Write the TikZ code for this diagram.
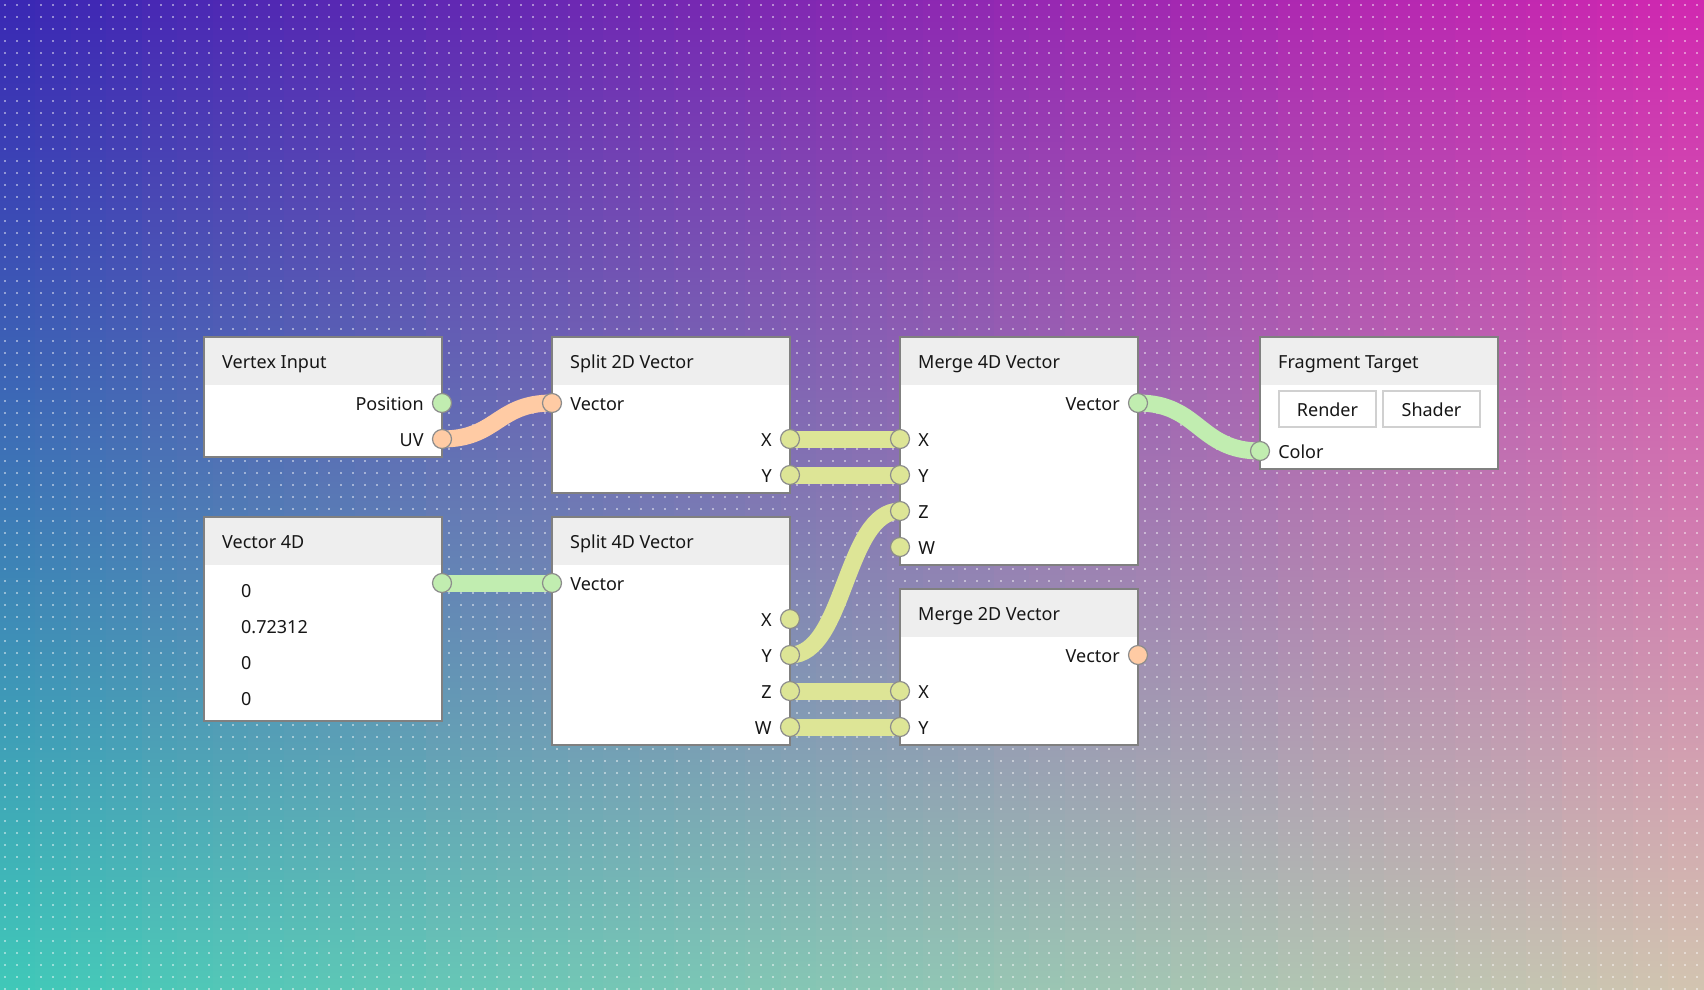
\documentclass[tikz,border=0pt]{standalone}
\usepackage{fontspec}
\setmainfont{Noto Sans}
\usetikzlibrary{positioning}

\definecolor{bgTL}{RGB}{58,40,180}
\definecolor{bgTR}{RGB}{208,40,176}
\definecolor{bgBL}{RGB}{64,200,184}
\definecolor{bgBR}{RGB}{210,196,176}
\definecolor{boxline}{RGB}{128,128,128}
\definecolor{headgray}{RGB}{238,238,238}
\definecolor{ink}{RGB}{22,22,22}
\definecolor{pgreen}{RGB}{193,237,176}
\definecolor{ppeach}{RGB}{255,203,164}
\definecolor{plime}{RGB}{221,229,150}
\definecolor{ringgray}{RGB}{140,140,140}
\definecolor{btnline}{RGB}{208,208,208}

\pgfdeclarelayer{wires}
\pgfdeclarelayer{front}
\pgfsetlayers{main,wires,front}

\begin{document}
\begin{tikzpicture}[x=1pt, y=-1pt,
        every node/.style={font=\fontsize{18}{22}\selectfont, text=ink},
        card/.style={anchor=north west, draw=boxline, line width=1.3pt, fill=white, minimum width=238, inner sep=0, outer sep=0,
            path picture={\fill[headgray] (path picture bounding box.north west) rectangle ([yshift=-48pt]path picture bounding box.north east);}},
        txt/.style={anchor=west, inner sep=0, text height=15pt, text depth=0pt},
        lbl/.style={inner sep=0, text height=15pt, text depth=0pt},
        button/.style={draw=btnline, line width=1.2pt, fill=white, minimum width=97, minimum height=36, inner sep=0, text height=15pt, text depth=0pt},
        port/.style={circle, draw=ringgray, line width=1.2pt, minimum size=19, inner sep=0},
        wire/.style={line width=17pt}
    ]
        % Background
        \useasboundingbox (0,0) rectangle (1704,989);
        \foreach \i in {0,...,47} {
            \pgfmathtruncatemacro{\p}{round(\i*100/47)}
            \shade[top color=bgTR!\p!bgTL, bottom color=bgBR!\p!bgBL] (\i*35.5,0) rectangle (\i*35.5+36.5,989);
        }
        \foreach \y in {5,17,...,989}
            \draw[white, opacity=0.45, line width=2pt, dash pattern=on 2pt off 10pt] (4,\y) -- (1704,\y);

        % Cards
        \node[card, minimum height=120] (vin) at (204,337) {};
        \node[card, minimum height=156] (splittwo) at (552,337) {};
        \node[card, minimum height=228] (mergefour) at (900,337) {};
        \node[card, minimum height=132] (frag) at (1260,337) {};
        \node[card, minimum height=204] (vecfour) at (204,517) {};
        \node[card, minimum height=228] (splitfour) at (552,517) {};
        \node[card, minimum height=156] (mergetwo) at (900,589) {};

        % Titles
        \node[txt] (vinT) at (222,361) {Vertex Input};
        \node[txt] (splittwoT) at (570,361) {Split 2D Vector};
        \node[txt] (mergefourT) at (918,361) {Merge 4D Vector};
        \node[txt] (fragT) at (1278,361) {Fragment Target};
        \node[txt] (vecfourT) at (222,541) {Vector 4D};
        \node[txt] (splitfourT) at (570,541) {Split 4D Vector};
        \node[txt] (mergetwoT) at (918,613) {Merge 2D Vector};

        % Buttons and values
        \node[button] (render) at (1327.5,409) {Render};
        \node[button] (shader) at (1431.5,409) {Shader};
        \node[txt] (valx) at (241,590) {0};
        \node[txt] (valy) at (241,626) {0.72312};
        \node[txt] (valz) at (241,662) {0};
        \node[txt] (valw) at (241,698) {0};

        % Ports
        \begin{pgfonlayer}{front}
        \node[port, fill=pgreen] (vinpos) at (442,403) {};
        \node[port, fill=ppeach] (vinuv) at (442,439) {};
        \node[port, fill=ppeach] (s2in) at (552,403) {};
        \node[port, fill=plime] (s2x) at (790,439) {};
        \node[port, fill=plime] (s2y) at (790,475) {};
        \node[port, fill=pgreen] (m4out) at (1138,403) {};
        \node[port, fill=plime] (m4x) at (900,439) {};
        \node[port, fill=plime] (m4y) at (900,475) {};
        \node[port, fill=plime] (m4z) at (900,511) {};
        \node[port, fill=plime] (m4w) at (900,547) {};
        \node[port, fill=pgreen] (fcolor) at (1260,451) {};
        \node[port, fill=pgreen] (v4out) at (442,583) {};
        \node[port, fill=pgreen] (s4in) at (552,583) {};
        \node[port, fill=plime] (s4x) at (790,619) {};
        \node[port, fill=plime] (s4y) at (790,655) {};
        \node[port, fill=plime] (s4z) at (790,691) {};
        \node[port, fill=plime] (s4w) at (790,727) {};
        \node[port, fill=ppeach] (m2out) at (1138,655) {};
        \node[port, fill=plime] (m2x) at (900,691) {};
        \node[port, fill=plime] (m2y) at (900,727) {};
        \end{pgfonlayer}

        % Port labels
        \node[lbl, left=8pt of vinpos] (vinposL) {Position};
        \node[lbl, left=8pt of vinuv] (vinuvL) {UV};
        \node[lbl, right=8pt of s2in] (s2inL) {Vector};
        \node[lbl, left=8pt of s2x] (s2xL) {X};
        \node[lbl, left=8pt of s2y] (s2yL) {Y};
        \node[lbl, left=8pt of m4out] (m4outL) {Vector};
        \node[lbl, right=8pt of m4x] (m4xL) {X};
        \node[lbl, right=8pt of m4y] (m4yL) {Y};
        \node[lbl, right=8pt of m4z] (m4zL) {Z};
        \node[lbl, right=8pt of m4w] (m4wL) {W};
        \node[lbl, right=8pt of fcolor] (fcolorL) {Color};
        \node[lbl, right=8pt of s4in] (s4inL) {Vector};
        \node[lbl, left=8pt of s4x] (s4xL) {X};
        \node[lbl, left=8pt of s4y] (s4yL) {Y};
        \node[lbl, left=8pt of s4z] (s4zL) {Z};
        \node[lbl, left=8pt of s4w] (s4wL) {W};
        \node[lbl, left=8pt of m2out] (m2outL) {Vector};
        \node[lbl, right=8pt of m2x] (m2xL) {X};
        \node[lbl, right=8pt of m2y] (m2yL) {Y};

        % Connections
        \begin{pgfonlayer}{wires}
        \draw[wire, ppeach] (vinuv.center) .. controls +(55,0) and +(-55,0) .. (s2in.center);
        \draw[wire, pgreen] (v4out.center) -- (s4in.center);
        \draw[wire, plime] (s2x.center) -- (m4x.center);
        \draw[wire, plime] (s2y.center) -- (m4y.center);
        \draw[wire, plime] (s4y.center) .. controls +(55,0) and +(-55,0) .. (m4z.center);
        \draw[wire, plime] (s4z.center) -- (m2x.center);
        \draw[wire, plime] (s4w.center) -- (m2y.center);
        \draw[wire, pgreen] (m4out.center) .. controls +(61,0) and +(-61,0) .. (fcolor.center);
        \end{pgfonlayer}
    \end{tikzpicture}
\end{document}
